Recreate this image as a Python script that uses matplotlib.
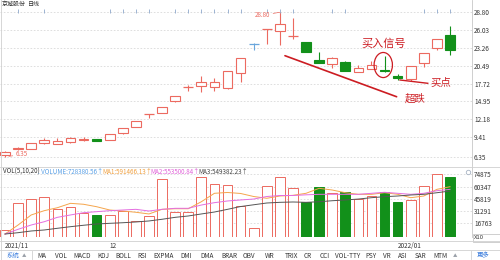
import matplotlib
matplotlib.use('Agg')
from matplotlib import pyplot as plt
from matplotlib.patches import Rectangle, Ellipse

plt.rcParams['font.family'] = ['Noto Sans CJK SC', 'DejaVu Sans']

# daily candles
opens  = [6.61, 7.59, 7.54, 8.52, 8.37, 8.68, 8.94, 9.14, 8.94, 10.08, 11.01, 12.94,
          13.19, 15.05, 17.14, 17.34, 17.14, 16.98, 19.41, 23.82, 26.16, 25.94, 25.11,
          24.23, 21.38, 20.71, 21.07, 19.47, 19.94, 19.80, 18.94, 18.38, 20.96, 23.20, 25.27]
closes = [7.12, 7.74, 8.52, 8.94, 8.74, 9.20, 9.05, 8.78, 9.83, 10.76, 11.89, 12.94,
          14.12, 15.78, 17.14, 18.01, 18.01, 19.72, 21.65, 23.82, 26.16, 26.98, 25.11,
          22.58, 20.87, 21.65, 19.67, 20.09, 20.60, 19.65, 18.58, 20.45, 22.42, 24.60, 22.94]
highs  = [7.20, 7.90, 8.52, 9.30, 9.20, 9.36, 9.36, 9.14, 9.83, 10.76, 11.89, 12.94,
          14.12, 15.78, 17.49, 18.89, 18.54, 19.72, 21.65, 23.98, 26.16, 28.80, 27.87,
          24.23, 22.67, 21.90, 21.23, 20.60, 21.27, 22.00, 19.20, 20.45, 22.42, 24.60, 26.67]
lows   = [6.35, 7.38, 7.54, 8.27, 8.37, 8.43, 8.83, 8.78, 8.94, 9.87, 11.01, 12.32,
          13.19, 14.90, 16.61, 16.45, 16.61, 16.83, 18.01, 22.94, 23.87, 23.71, 24.60,
          22.58, 20.87, 20.18, 19.67, 19.47, 19.94, 19.56, 18.27, 18.16, 20.34, 22.94, 22.16]
blue_doji = [19]

volumes = [8800, 41200, 45900, 47600, 33700, 36100, 29300, 26600, 26600, 31700, 19500, 25400,
           68900, 30500, 30500, 71300, 63300, 61800, 36900, 10800, 60600, 71300, 58200,
           42300, 60100, 53000, 53500, 45200, 49500, 53500, 41600, 44400, 61300, 74875, 72000]
ma1 = [4000, 14700, 26600, 31700, 35200, 40400, 39300, 36400, 32500, 31300, 29800, 27800,
       33300, 34000, 34000, 42300, 52300, 53300, 52100, 48500, 46400, 49100, 49900,
       52300, 58200, 56200, 53000, 51100, 51100, 53000, 51100, 47100, 49100, 57000, 60100]
ma2 = [4000, 9600, 14700, 18600, 23800, 26600, 29300, 30500, 31700, 32500, 33300, 31300,
       33300, 34500, 34500, 38400, 41200, 43200, 44400, 45500, 48500, 49700, 49700,
       50500, 51100, 51100, 51100, 51100, 52300, 53500, 52300, 51100, 52300, 55400, 57000]
ma3 = [4000, 5600, 7600, 8800, 10800, 12700, 14400, 15900, 16700, 17400, 18300, 19500,
       21500, 23800, 25400, 27800, 30100, 33300, 36600, 38700, 40800, 41600, 42000,
       41600, 42300, 43500, 44400, 45500, 47100, 48300, 49100, 50300, 51100, 53000, 55000]

price_ticks = [28.80, 26.03, 23.26, 20.49, 17.72, 14.95, 12.18, 9.41, 6.35]
vol_ticks = [74875, 60347, 45819, 31291, 16763]
event_marks = [1, 3, 8, 9, 10, 11, 13, 14, 15, 16, 17, 18, 20, 21, 22, 25, 26, 32, 33, 34]
date_labels = [(0, '2021/11'), (8, '12'), (30, '2022/01')]
toolbar = [('MA', 42), ('VOL', 61), ('MACD', 82), ('KDJ', 103), ('BOLL', 123), ('RSI', 142),
           ('EXPMA', 164), ('DMI', 186), ('DMA', 207), ('BRAR', 229), ('OBV', 249),
           ('WR', 270), ('TRIX', 291), ('CR', 308), ('CCI', 325), ('VOL-TTY', 348),
           ('PSY', 371), ('VR', 387), ('ASI', 403), ('SAR', 421), ('MTM', 440)]

RED = '#ec6a60'
GREEN = '#12901a'
BLUE = '#6aa6dc'
ANN = '#cc1c22'
GRID = '#d9d9d9'
W = 0.74

W_PX, H_PX = 500, 260

def fy(px):
    return 1 - px / H_PX

fig = plt.figure(figsize=(5, 2.6), dpi=100)
fig.patch.set_facecolor('white')

# price panel
ax = fig.add_axes([0, fy(166), 472 / W_PX, 166 / H_PX])
n = len(opens)
ax.set_xlim(-0.382, 35.68)
ax.set_ylim(4.90, 30.71)
for t in price_ticks:
    ax.axhline(t, color=GRID, lw=0.6, ls=(0, (2, 2)), zorder=0)

for i in range(n):
    o, c, h, l = opens[i], closes[i], highs[i], lows[i]
    if i in blue_doji:
        col = BLUE
    elif c < o:
        col = GREEN
    else:
        col = RED
    ax.vlines(i, l, h, color=col, lw=0.8, zorder=2)
    if o == c:
        ax.hlines(o, i - W / 2, i + W / 2, color=col, lw=0.9, zorder=3)
    elif c > o:
        ax.add_patch(Rectangle((i - W / 2, o), W, c - o, facecolor='white',
                               edgecolor=col, lw=0.8, zorder=3))
    else:
        ax.add_patch(Rectangle((i - W / 2, c), W, o - c, facecolor=col,
                               edgecolor=col, lw=0.8, zorder=3))

# max / min labels
imax = highs.index(max(highs))
imin = lows.index(min(lows))
ax.annotate('%.2f' % highs[imax], xy=(imax, highs[imax]), xytext=(imax - 1.9, highs[imax] - 0.45),
            fontsize=4.5, color=RED, va='center', ha='left',
            arrowprops=dict(arrowstyle='-', color=RED, lw=0.5, shrinkA=0, shrinkB=0))
ax.annotate('%.2f' % lows[imin], xy=(imin + 0.3, lows[imin] + 0.05), xytext=(imin + 0.8, lows[imin] + 0.35),
            fontsize=4.5, color=RED, va='center', ha='left',
            arrowprops=dict(arrowstyle='-', color=RED, lw=0.5, shrinkA=0, shrinkB=0))

# event markers along the top
ax.plot(event_marks, [0.933] * len(event_marks), ls='none', marker='|', ms=2.5, mew=0.6,
        color='#8ea8cc', transform=ax.get_xaxis_transform())

# hand drawn notes
ax.plot([21.39, 29.92], [22.05, 15.67], color=ANN, lw=1.2, solid_capstyle='round')
ax.text(30.55, 15.40, '超跌', fontsize=7.5, color=ANN, ha='left', va='center')
ax.text(28.95, 24.0, '买入信号', fontsize=8, color=ANN, ha='center', va='center')
ax.add_patch(Ellipse((28.9, 20.6), 1.4, 3.9, fill=False, edgecolor=ANN, lw=0.9, zorder=4))
ax.plot([30.18, 32.3], [18.27, 17.76], color=ANN, lw=1.0)
ax.text(32.5, 17.76, '买点', fontsize=7.5, color=ANN, ha='left', va='center')

ax.text(0.004, 0.975, '京城股份', fontsize=4.3, color='#333333', transform=ax.transAxes,
        va='center', ha='left')
ax.text(0.06, 0.975, '日线', fontsize=4.3, color='#333333', transform=ax.transAxes,
        va='center', ha='left')

ax.yaxis.tick_right()
ax.set_yticks(price_ticks)
ax.set_yticklabels(['%.2f' % t for t in price_ticks])
ax.tick_params(axis='y', length=0, pad=1.5, labelsize=4.6, labelcolor='#333333')
ax.set_xticks([])
for s in ['top', 'left', 'bottom']:
    ax.spines[s].set_visible(False)
ax.spines['right'].set_color('#c8c8c8')
ax.spines['right'].set_linewidth(0.6)

# volume panel
vx = fig.add_axes([0, fy(237.4), 472 / W_PX, (237.4 - 167) / H_PX])
vx.set_xlim(-0.382, 35.68)
vx.set_ylim(0, 83500)
for t in vol_ticks:
    vx.axhline(t, color=GRID, lw=0.6, ls=(0, (2, 2)), zorder=0)
xs = list(range(n))
face = [GREEN if closes[i] < opens[i] else 'white' for i in xs]
edge = [GREEN if closes[i] < opens[i] else RED for i in xs]
vx.bar(xs, volumes, width=W, color=face, edgecolor=edge, lw=0.7, zorder=2)
vx.plot(xs, ma1, color='#f5a54c', lw=0.7, zorder=3)
vx.plot(xs, ma2, color='#e46ee0', lw=0.7, zorder=3)
vx.plot(xs, ma3, color='#555555', lw=0.7, zorder=3)
vx.yaxis.tick_right()
vx.set_yticks(vol_ticks)
vx.set_yticklabels([str(t) for t in vol_ticks])
vx.tick_params(axis='y', length=0, pad=1.5, labelsize=4.6, labelcolor='#333333')
vx.set_xticks([])
for s in ['top', 'left', 'bottom']:
    vx.spines[s].set_visible(False)
vx.spines['right'].set_color('#c8c8c8')
vx.spines['right'].set_linewidth(0.6)

hdr_y = fy(172)
fig.text(3 / W_PX, hdr_y, 'VOL(5,10,20)', fontsize=4.5, color='#333333', va='center')
fig.text(38 / W_PX, hdr_y, '. VOLUME:728380.56↑', fontsize=4.5, color='#5aa0e6', va='center')
fig.text(102 / W_PX, hdr_y, 'MA1:591466.13↑', fontsize=4.5, color='#f0a040', va='center')
fig.text(150 / W_PX, hdr_y, 'MA2:553500.84↑', fontsize=4.5, color='#e060d8', va='center')
fig.text(198 / W_PX, hdr_y, 'MA3:549382.23↑', fontsize=4.5, color='#444444', va='center')

# date labels under the volume bars
for idx, lab in date_labels:
    vx.text(idx, -0.125, lab, fontsize=4.6, color='#333333', ha='left', va='center',
            transform=vx.get_xaxis_transform(), clip_on=False)

# frame lines
line_kw = dict(color='#d0d0d0', lw=0.6, transform=fig.transFigure)
fig.add_artist(plt.Line2D([0, 1], [fy(166.5), fy(166.5)], **line_kw))
fig.add_artist(plt.Line2D([0, 1], [fy(240.5), fy(240.5)], **line_kw))
fig.add_artist(plt.Line2D([0, 1], [fy(250), fy(250)], **line_kw))
fig.add_artist(plt.Line2D([0.5 / W_PX, 0.5 / W_PX], [0, 1], **line_kw))
fig.add_artist(plt.Line2D([32 / W_PX, 32 / W_PX], [fy(259), fy(251)], **line_kw))
fig.add_artist(plt.Line2D([471 / W_PX, 471 / W_PX], [fy(259), fy(251)], **line_kw))
fig.add_artist(Rectangle((472.5 / W_PX, fy(241.5)), 27 / W_PX, 7.5 / H_PX, fill=False,
                         edgecolor='#c8c8c8', lw=0.6, transform=fig.transFigure))
fig.text(474 / W_PX, fy(237.8), 'X10', fontsize=4.3, color='#333333', va='center')
fig.add_artist(plt.Line2D([468 / W_PX], [fy(171.7)], marker='o', ms=3.2, mfc='none',
                          mec='#a8b4c4', mew=0.6, transform=fig.transFigure))

# indicator toolbar
tb_y = fy(255.5)
fig.text(7 / W_PX, tb_y, '系统', fontsize=4.6, color='#3b7ddd', va='center')
fig.text(24 / W_PX, tb_y, '▲', fontsize=3.2, color='#9aa0a8', va='center', ha='center')
for lab, x in toolbar:
    fig.text(x / W_PX, tb_y, lab, fontsize=4.6, color='#333333', va='center', ha='center')
fig.text(455 / W_PX, tb_y, '▲', fontsize=3.2, color='#9aa0a8', va='center', ha='center')
fig.text(483 / W_PX, tb_y, '更多', fontsize=4.6, color='#3b7ddd', va='center', ha='center')

fig.savefig('out.png', dpi=100, facecolor='white')
